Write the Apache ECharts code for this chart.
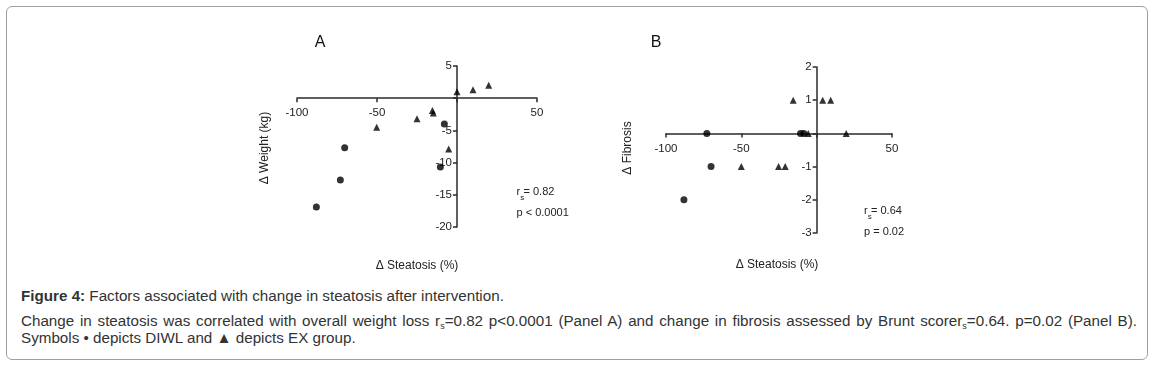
<!DOCTYPE html>
<html>
<head>
<meta charset="utf-8">
<script src="https://cdn.jsdelivr.net/npm/echarts@6/dist/echarts.min.js"></script>
<style>
  html, body { margin: 0; padding: 0; background: #fff; }
  #wrap { position: relative; width: 1156px; height: 365px; overflow: hidden; }
  #frame { position: absolute; left: 6px; top: 6px; width: 1142px; height: 354px; border: 1px solid #a0a0a0; border-radius: 6px; box-sizing: border-box; }
  #chart { position: absolute; left: 0; top: 0; width: 1156px; height: 280px; }
  .cap { position: absolute; left: 21px; width: 1116px; font-family: "Liberation Sans", Arial, sans-serif; font-size: 15.2px; line-height: 17px; color: #333; white-space: nowrap; }
  .cap sub { font-size: 9px; vertical-align: -3px; line-height: 0; }
  #l2 { white-space: normal; text-align: justify; text-align-last: justify; }
</style>
</head>
<body>
<div id="wrap">
  <div id="frame"></div>
  <div id="chart"></div>
  <div class="cap" style="top:287px"><b>Figure 4:</b> Factors associated with change in steatosis after intervention.</div>
  <div class="cap" id="l2" style="top:312px">Change in steatosis was correlated with overall weight loss r<sub>s</sub>=0.82 p&lt;0.0001 (Panel A) and change in fibrosis assessed by Brunt scorer<sub>s</sub>=0.64. p=0.02 (Panel B).</div>
  <div class="cap" style="top:329px">Symbols • depicts DIWL and ▲ depicts EX group.</div>
</div>
<script>
// Panel A: Δ Steatosis (%) vs Δ Weight (kg)
var aDiwlSteatosis = [-87.9, -72.9, -70.2, -10.4, -7.9];
var aDiwlWeight    = [-16.9, -12.7, -7.7, -10.7, -4.0];
var aExSteatosis   = [-50.2, -25.0, -15.4, -14.8, -5.2, 0.0, 10.0, 19.8];
var aExWeight      = [-4.5, -3.2, -1.9, -2.3, -7.9, 1.0, 1.3, 2.0];
// Panel B: Δ Steatosis (%) vs Δ Fibrosis
var bDiwlSteatosis = [-88.1, -72.9, -70.1, -10.7, -8.5];
var bDiwlFibrosis  = [-2, 0, -1, 0, 0];
var bExSteatosis   = [-50.0, -25.3, -20.9, -15.6, -5.6, 4.0, 9.3, 19.6];
var bExFibrosis    = [-1, -1, -1, 1, 0, 1, 1, 0];

var xTicks = [-100, -50, 50];
var aYTicks = [5, -5, -10, -15, -20];
var bYTicks = [2, 1, -1, -2, -3];

function pairs(xs, ys) { return xs.map(function (x, i) { return [x, ys[i]]; }); }

var FONT = '"Liberation Sans", Arial, sans-serif';
var AX = '#2a2a2a';
var grids = [
  { left: 297, top: 66, width: 240, height: 161 },
  { left: 666, top: 67, width: 226, height: 166 }
];
function lbl(ticks, margin) {
  return {
    fontFamily: FONT, fontSize: 11.5, color: '#222', margin: margin,
    formatter: function (v) { return ticks.indexOf(v) >= 0 ? String(v) : ''; }
  };
}
// axes cross at zero: shift each axis from the grid edge to the other axis' zero
function xAx(gi, min, max, interval, ticks, yMin, yMax) {
  return {
    gridIndex: gi, type: 'value', min: min, max: max, interval: interval, position: 'bottom',
    offset: -grids[gi].height * (0 - yMin) / (yMax - yMin),
    axisLine: { onZero: false, lineStyle: { color: AX, width: 1.5 } },
    axisTick: { show: true, length: 4, lineStyle: { color: AX, width: 1.5 } },
    axisLabel: lbl(ticks, 9), splitLine: { show: false }
  };
}
function yAx(gi, min, max, interval, ticks, xMin, xMax) {
  return {
    gridIndex: gi, type: 'value', min: min, max: max, interval: interval, position: 'left',
    offset: -grids[gi].width * (0 - xMin) / (xMax - xMin),
    axisLine: { onZero: false, lineStyle: { color: AX, width: 1.5 } },
    axisTick: { show: true, length: 4, lineStyle: { color: AX, width: 1.5 } },
    axisLabel: lbl(ticks, 5), splitLine: { show: false }
  };
}
function txt(x, y, s, size, extra) {
  var o = { type: 'text', x: x, y: y, silent: true,
    style: { text: s, fontFamily: FONT, fontSize: size, fill: '#222', textAlign: 'left', textVerticalAlign: 'middle' } };
  if (extra) { for (var k in extra) o.style[k] = extra[k]; }
  return o;
}

var chart = echarts.init(document.getElementById('chart'), null, { renderer: 'canvas' });
chart.setOption({
  animation: false,
  backgroundColor: 'transparent',
  grid: grids,
  xAxis: [xAx(0, -100, 50, 50, xTicks, -20, 5), xAx(1, -100, 50, 50, xTicks, -3, 2)],
  yAxis: [yAx(0, -20, 5, 5, aYTicks, -100, 50), yAx(1, -3, 2, 1, bYTicks, -100, 50)],
  series: [
    { type: 'scatter', xAxisIndex: 0, yAxisIndex: 0, symbol: 'circle', symbolSize: 7,
      itemStyle: { color: '#000' }, data: pairs(aDiwlSteatosis, aDiwlWeight) },
    { type: 'scatter', xAxisIndex: 0, yAxisIndex: 0, symbol: 'triangle', symbolSize: 7,
      itemStyle: { color: '#000' }, data: pairs(aExSteatosis, aExWeight) },
    { type: 'scatter', xAxisIndex: 1, yAxisIndex: 1, symbol: 'circle', symbolSize: 7,
      itemStyle: { color: '#000' }, data: pairs(bDiwlSteatosis, bDiwlFibrosis) },
    { type: 'scatter', xAxisIndex: 1, yAxisIndex: 1, symbol: 'triangle', symbolSize: 7,
      itemStyle: { color: '#000' }, data: pairs(bExSteatosis, bExFibrosis) }
  ],
  graphic: [
    txt(320, 43, 'A', 16, { textAlign: 'center', fill: '#111' }),
    txt(656, 43, 'B', 16, { textAlign: 'center', fill: '#111' }),
    { type: 'text', x: 265, y: 148, rotation: Math.PI / 2, silent: true,
      style: { text: 'Δ Weight (kg)', fontFamily: FONT, fontSize: 12, fill: '#222', textAlign: 'center', textVerticalAlign: 'middle' } },
    { type: 'text', x: 628, y: 148, rotation: Math.PI / 2, silent: true,
      style: { text: 'Δ Fibrosis', fontFamily: FONT, fontSize: 12, fill: '#222', textAlign: 'center', textVerticalAlign: 'middle' } },
    txt(417, 266, 'Δ Steatosis (%)', 12, { textAlign: 'center' }),
    txt(777, 265, 'Δ Steatosis (%)', 12, { textAlign: 'center' }),
    txt(516.5, 192, 'r', 11),
    txt(520.3, 197.5, 's', 8),
    txt(523.5, 192, '= 0.82', 11),
    txt(516.5, 212.5, 'p < 0.0001', 11),
    txt(864, 211, 'r', 11),
    txt(867.8, 216.5, 's', 8),
    txt(871, 211, '= 0.64', 11),
    txt(864, 231.5, 'p = 0.02', 11)
  ]
});
</script>
</body>
</html>
